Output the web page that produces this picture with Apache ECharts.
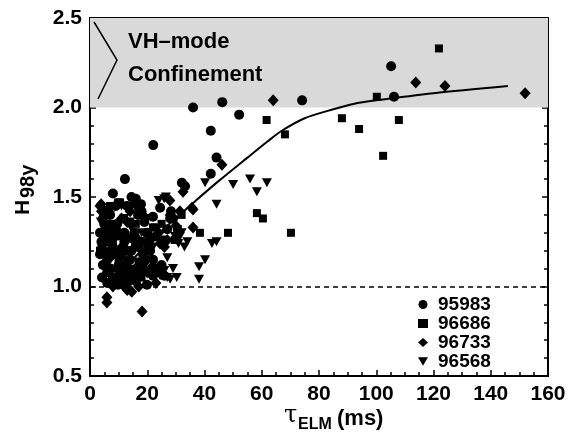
<!DOCTYPE html>
<html><head><meta charset="utf-8">
<script src="https://cdn.jsdelivr.net/npm/echarts@6/dist/echarts.min.js"></script>
<style>html,body{margin:0;padding:0;background:#fff}#c{width:572px;height:442px}</style>
</head><body><div id="c"></div>
<script>
// ---- data (tau_ELM [ms], H98y) ----
const shot95983 = [
  [22.1,1.79],[36.0,2.00],[46.2,2.03],[52.1,1.96],[42.2,1.87],[44.2,1.72],[42.2,1.63],[12.2,1.60],
  [32.1,1.58],[33.2,1.56],[74.1,2.04],[105.2,2.23],[106.2,2.06],[8.0,1.52],
  [15.7,1.48],[17.8,1.46],[14.5,1.50],[16.0,1.49],[5.5,1.42],[7.0,1.40],[4.5,1.38],[16.8,1.40],
  [22.0,1.39],[24.5,1.44],[28.3,1.42],[28.0,1.38],[18.0,1.42],
  [4.0,1.25],[5.0,1.20],[6.0,1.15],[7.0,1.10],[4.2,1.05],[5.5,1.28],[8.0,1.22],[9.0,1.18],[10.0,1.12],
  [9.8,1.01],[11.0,1.05],[12.0,1.25],[13.0,1.20],[14.0,1.15],[15.0,1.08],[16.0,1.03],[17.0,1.22],
  [18.5,1.18],[18.5,1.10],[19.9,1.01],[22.0,1.15],[22.0,1.06],[23.0,1.10],[12.0,1.30],[10.0,1.30],
  [7.0,1.32],[14.5,1.27],[20.5,1.24],[24.0,1.08],[8.0,1.05],[13.0,1.02],[3.5,1.18],[6.0,1.08],
  [11.0,1.17],[16.0,1.27],[26.0,1.06],
  [3.5,1.30],[5.0,1.35],[6.5,1.25],[8.5,1.28],[9.5,1.35],[11.5,1.22],[12.5,1.12],[13.5,1.08],
  [14.5,1.20],[15.5,1.30],[17.0,1.08],[18.0,1.25],[19.0,1.14],[20.0,1.30],[21.0,1.20],[21.5,1.10],
  [10.5,1.08],[7.5,1.18],[4.5,1.12],[6.0,1.02],[9.0,1.45],[13.0,1.45],[19.0,1.36],[25.0,1.12],
  [23.0,1.28],[27.0,1.32],[29.0,1.38]
];
const shot96686 = [
  [121.9,2.33],[100.2,2.06],[88.0,1.94],[94.0,1.88],[102.4,1.73],[107.9,1.93],[68.1,1.85],[61.7,1.93],
  [58.3,1.41],[60.4,1.38],[70.2,1.30],[48.2,1.30],[38.4,1.30],[32.0,1.40],[22.0,1.33],[30.4,1.32],
  [10.5,1.47],[22.7,1.33],[30.7,1.32],[9.8,1.47],[5.9,1.27],[15.7,1.24],
  [6.0,1.30],[8.0,1.25],[4.0,1.22],[12.0,1.20],[14.0,1.27],[10.0,1.15],[17.0,1.14],[20.0,1.20],
  [9.0,1.10],[29.6,1.26],[7.0,1.45],[15.0,1.10],[11.0,1.28],[25.0,1.35],
  [3.5,1.20],[7.5,1.35],[13.0,1.14],[18.0,1.05],[16.0,1.35]
];
const shot96733 = [
  [64.0,2.04],[113.8,2.14],[124.0,2.12],[152.0,2.08],[46.1,1.68],[27.9,1.48],[36.0,1.43],[36.0,1.33],
  [5.9,0.94],[5.9,0.91],[18.2,0.86],[14.6,0.97],[3.5,1.45],[3.9,1.46],[6.3,1.43],[32.5,1.53],
  [35.6,1.44],[18.5,1.40],[19.9,1.29],[28.0,1.40],[31.4,1.42],[24.5,1.24],
  [4.0,1.42],[5.0,1.40],[8.0,1.20],[10.0,1.05],[12.0,1.00],[13.0,0.98],[15.0,1.05],[16.0,1.10],
  [21.0,1.26],[24.0,1.30],[26.0,1.22],[9.0,1.30],[11.0,1.38],[13.0,1.36],[7.0,1.16],[17.0,1.00],
  [23.0,1.02],[20.0,1.08],[14.0,1.42],
  [5.0,1.25],[10.0,1.20],[14.0,1.05],[18.0,1.12],[22.0,1.10],[27.0,1.26],[30.0,1.34],[8.0,1.00]
];
const shot96568 = [
  [40.2,1.58],[50.0,1.57],[55.9,1.60],[58.3,1.53],[61.8,1.58],[44.2,1.46],[40.2,1.15],[38.1,1.11],
  [38.1,1.04],[42.6,1.24],[44.2,1.25],[30.3,1.05],[28.0,1.04],[31.4,1.28],[30.9,1.24],[33.0,1.22],
  [32.0,1.30],[26.5,1.50],[3.8,1.36],[7.3,1.33],[9.8,1.34],[14.0,1.36],[14.3,1.33],[24.5,1.06],
  [26.0,1.09],[27.0,1.05],[29.0,1.10],[22.0,1.22],[25.0,1.26],[18.0,1.30],[11.0,1.45],[5.0,1.32],
  [20.0,1.15],[34.0,1.25],[29.7,1.28],[24.0,1.48],[14.0,1.43],[25.9,1.49],
  [7.0,1.40],[12.0,1.38],[16.0,1.44],[20.0,1.38],[27.0,1.16]
];
const fitLine = [
  [7,1.02],[12.6,1.11],[17.8,1.20],[25,1.31],[37,1.48],[45,1.59],[55,1.72],[62,1.81],[67,1.87],
  [75,1.94],[85,1.99],[92,2.02],[100,2.04],[120,2.08],[146,2.12]
];
const shotNames = ['95983','96686','96733','96568'];
const xTicks = {min:0, max:160, interval:20};
const yTicks = {min:0.5, max:2.5, interval:0.5};
const vhThreshold = 2.0;
const unityLevel = 1.0;

const FONT = '"Liberation Sans",Arial,sans-serif';
const triDown = 'path://M0,0L10,0L5,8.7Z';
const G = {left:90, right:24, top:18, bottom:66};
const W = 572, H = 442;

// main axes: frame lines + labels
function frameAxis(pos, rng, showLabel) {
  return {
    type:'value', gridIndex:0, position:pos, min:rng.min, max:rng.max, interval:rng.interval,
    axisLine:{show:true, onZero:false, lineStyle:{color:'#000', width:2}},
    axisTick:{show:false}, minorTick:{show:false}, splitLine:{show:false},
    axisLabel: showLabel ? {show:true, margin:8, color:'#000', fontFamily:FONT, fontWeight:'bold', fontSize:21,
      formatter: (pos==='left' ? (v=>v.toFixed(1)) : (v=>String(v)))} : {show:false}
  };
}
// tick-only axes living in thin helper grids; their outward ticks point into the plot
function tickAxis(gridIndex, pos, rng, minorSplit) {
  return {
    type:'value', gridIndex:gridIndex, position:pos, min:rng.min, max:rng.max, interval:rng.interval,
    axisLine:{show:false, onZero:false},
    axisTick:{show:true, inside:false, length:6, lineStyle:{color:'#000', width:1.5}},
    minorTick:{show:true, splitNumber:minorSplit, length:4, lineStyle:{color:'#000', width:1.5}},
    splitLine:{show:false}, axisLabel:{show:false}
  };
}
function hiddenAxis(gridIndex) {
  return {type:'value', gridIndex:gridIndex, min:0, max:1, show:false};
}

const chart = echarts.init(document.getElementById('c'));
const option = {
  animation:false,
  backgroundColor:'#fff',
  grid:[
    {left:G.left, right:G.right, top:G.top, bottom:G.bottom},
    {left:G.left, right:G.right, top:H - G.bottom, height:1},      // bottom tick strip
    {left:G.left, right:G.right, top:G.top - 1, height:1},         // top tick strip
    {left:G.left - 1, width:1, top:G.top, bottom:G.bottom},        // left tick strip
    {left:W - G.right, width:1, top:G.top, bottom:G.bottom}        // right tick strip
  ],
  xAxis:[
    frameAxis('bottom', xTicks, true),
    frameAxis('top', xTicks, false),
    tickAxis(1, 'top', xTicks, 4),
    tickAxis(2, 'bottom', xTicks, 4),
    hiddenAxis(3),
    hiddenAxis(4)
  ],
  yAxis:[
    frameAxis('left', yTicks, true),
    frameAxis('right', yTicks, false),
    hiddenAxis(1),
    hiddenAxis(2),
    tickAxis(3, 'right', yTicks, 5),
    tickAxis(4, 'left', yTicks, 5)
  ],
  legend:{
    orient:'vertical', left:413, top:290, itemGap:0, itemWidth:10, itemHeight:9,
    data:[
      {name:shotNames[0], icon:'circle'},
      {name:shotNames[1], icon:'rect'},
      {name:shotNames[2], icon:'diamond'},
      {name:shotNames[3], icon:triDown}
    ],
    textStyle:{color:'#000', fontFamily:FONT, fontWeight:'bold', fontSize:19, lineHeight:18.3, padding:[0,0,0,5]}
  },
  series:[
    {type:'line', name:'bg', data:[], silent:true, z:0,
      markArea:{silent:true, itemStyle:{color:'#d9d9d9'}, data:[[{yAxis:vhThreshold},{yAxis:yTicks.max}]]},
      markLine:{silent:true, symbol:'none', label:{show:false}, lineStyle:{color:'#000', width:1.5, type:[5,4]},
        data:[{yAxis:unityLevel}]}
    },
    {type:'scatter', name:shotNames[0], data:shot95983, symbol:'circle', symbolSize:10, itemStyle:{color:'#000', opacity:1}, z:3},
    {type:'scatter', name:shotNames[1], data:shot96686, symbol:'rect', symbolSize:8, itemStyle:{color:'#000', opacity:1}, z:3},
    {type:'scatter', name:shotNames[2], data:shot96733, symbol:'diamond', symbolSize:[11,12], itemStyle:{color:'#000', opacity:1}, z:3},
    {type:'scatter', name:shotNames[3], data:shot96568, symbol:triDown, symbolSize:[10,9], itemStyle:{color:'#000', opacity:1}, z:3},
    {type:'line', name:'fit', data:fitLine, showSymbol:false, symbol:'none', smooth:0.3,
      lineStyle:{color:'#000', width:2}, z:4, silent:true}
  ],
  graphic:[
    {type:'polyline', shape:{points:[[94,22],[117,60],[98,99]]}, style:{stroke:'#000', lineWidth:1.5, fill:null}, z:10},
    {type:'text', x:128, y:42, style:{text:'VH–mode', fontFamily:FONT, fontWeight:'bold', fontSize:22, fill:'#000', verticalAlign:'middle'}, z:10},
    {type:'text', x:128, y:75, style:{text:'Confinement', fontFamily:FONT, fontWeight:'bold', fontSize:22, fill:'#000', verticalAlign:'middle'}, z:10},
    {type:'text', x:284, y:428, style:{text:'τ', fontFamily:'"DejaVu Serif",serif', fontSize:24, fill:'#000', verticalAlign:'bottom'}},
    {type:'text', x:298, y:433, style:{text:'ELM', fontFamily:FONT, fontWeight:'bold', fontSize:16, fill:'#000', verticalAlign:'bottom'}},
    {type:'text', x:337, y:430, style:{text:'(ms)', fontFamily:FONT, fontWeight:'bold', fontSize:22, fill:'#000', verticalAlign:'bottom'}},
    {type:'text', x:34, y:215, rotation:Math.PI/2, style:{text:'H', fontFamily:FONT, fontWeight:'bold', fontSize:21, fill:'#000', verticalAlign:'bottom'}},
    {type:'text', x:38, y:198, rotation:Math.PI/2, style:{text:'98y', fontFamily:FONT, fontWeight:'bold', fontSize:20, fill:'#000', verticalAlign:'bottom'}}
  ]
};
chart.setOption(option);
</script></body></html>
